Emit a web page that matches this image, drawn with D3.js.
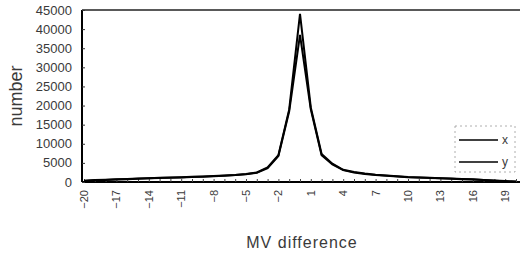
<!DOCTYPE html>
<html>
<head>
<meta charset="utf-8">
<script src="https://cdn.jsdelivr.net/npm/d3@7"></script>
<style>
  body { margin: 0; background: #fff; }
  svg { display: block; font-family: "Liberation Sans", Arial, sans-serif; }
</style>
</head>
<body>
<svg id="chart" width="520" height="255"></svg>
<script>
// MV difference categories
const categories = d3.range(-20, 21)
const seriesX = [300, 500, 600, 700, 800, 900, 1000, 1100, 1150, 1250, 1350, 1450, 1550, 1700, 1850, 2100, 2500, 3800, 7000, 19000, 44000,
  19500, 7300, 4800, 3200, 2600, 2200, 1900, 1700, 1500, 1300, 1200, 1100, 1000, 900, 800, 700, 550, 400, 250, 100]
const seriesY = [250, 450, 550, 650, 750, 850, 950, 1050, 1100, 1200, 1300, 1400, 1500, 1650, 1800, 2050, 2400, 3600, 6800, 18500, 38500,
  19000, 7000, 4600, 3100, 2500, 2100, 1850, 1650, 1450, 1250, 1150, 1050, 950, 850, 750, 650, 500, 350, 200, 80]
const yTicks = [0, 5000, 10000, 15000, 20000, 25000, 30000, 35000, 40000, 45000]
const xTickLabels = d3.range(-20, 21, 3)
const legendNames = ['x', 'y']

const svg = d3.select('#chart')
const margin = {top: 10, right: 0, bottom: 73, left: 82}
const width = 520, height = 255
const textColor = '#3a3a3a'

const x = d3.scalePoint()
  .domain(categories)
  .range([margin.left + 2, 516])

const y = d3.scaleLinear()
  .domain([0, 45000])
  .range([height - margin.bottom, margin.top])

// frame
svg.append('line')
  .attr('x1', margin.left).attr('x2', width)
  .attr('y1', y(45000)).attr('y2', y(45000))
  .attr('stroke', '#222').attr('stroke-width', 1.5)

svg.append('line')
  .attr('x1', margin.left).attr('x2', margin.left)
  .attr('y1', y(45000)).attr('y2', y(0))
  .attr('stroke', '#000').attr('stroke-width', 2)

svg.append('line')
  .attr('x1', margin.left).attr('x2', width)
  .attr('y1', y(0)).attr('y2', y(0))
  .attr('stroke', '#000').attr('stroke-width', 2)

// y axis
const yAxis = svg.append('g')
  .attr('transform', 'translate(' + margin.left + ',0)')
  .call(d3.axisRight(y).tickValues(yTicks).tickSize(3).tickFormat(''))
yAxis.select('.domain').remove()
yAxis.selectAll('line').attr('stroke', '#333')

svg.append('g')
  .selectAll('text')
  .data(yTicks)
  .join('text')
    .attr('x', 72)
    .attr('y', d => y(d))
    .attr('dy', '0.35em')
    .attr('text-anchor', 'end')
    .style('font-size', '13px')
    .style('fill', textColor)
    .text(d => d)

// x axis
const xAxis = svg.append('g')
  .attr('transform', 'translate(0,' + y(0) + ')')
  .call(d3.axisTop(x).tickValues(categories).tickSize(3).tickFormat(''))
xAxis.select('.domain').remove()
xAxis.selectAll('line').attr('stroke', '#444')

svg.append('g')
  .selectAll('text')
  .data(xTickLabels)
  .join('text')
    .attr('transform', d => 'translate(' + (x(d) + 4) + ',' + (y(0) + 8) + ') rotate(-90)')
    .attr('text-anchor', 'end')
    .style('font-size', '11px')
    .style('fill', textColor)
    .text(d => d < 0 ? '\u2212' + (-d) : d)

// axis titles
svg.append('text')
  .attr('transform', 'translate(22,' + ((y(0) + y(45000)) / 2) + ') rotate(-90)')
  .attr('text-anchor', 'middle')
  .style('font-size', '18px')
  .style('fill', textColor)
  .text('number')

svg.append('text')
  .attr('x', 302)
  .attr('y', 248)
  .attr('text-anchor', 'middle')
  .style('font-size', '16px')
  .style('letter-spacing', '1px')
  .style('fill', textColor)
  .text('MV difference')

// lines
const line = d3.line()
  .x((d, i) => x(categories[i]))
  .y(d => y(d))

svg.append('path')
  .datum(seriesX)
  .attr('fill', 'none')
  .attr('stroke', '#000')
  .attr('stroke-width', 2)
  .attr('d', line)

svg.append('path')
  .datum(seriesY)
  .attr('fill', 'none')
  .attr('stroke', '#000')
  .attr('stroke-width', 2)
  .attr('d', line)

// legend
const legend = svg.append('g').attr('transform', 'translate(455,126)')
legend.append('rect')
  .attr('width', 60).attr('height', 46)
  .attr('fill', '#fff')
  .attr('stroke', '#999')
  .attr('stroke-dasharray', '2,3')
  .attr('stroke-width', 0.8)

legendNames.forEach((name, i) => {
  legend.append('line')
    .attr('x1', 4).attr('x2', 43)
    .attr('y1', 14 + i * 22).attr('y2', 14 + i * 22)
    .attr('stroke', '#000').attr('stroke-width', 1.5)
  legend.append('text')
    .attr('x', 47)
    .attr('y', 14 + i * 22)
    .attr('dy', '0.35em')
    .style('font-size', '12px')
    .style('fill', textColor)
    .text(name)
})
</script>
</body>
</html>
